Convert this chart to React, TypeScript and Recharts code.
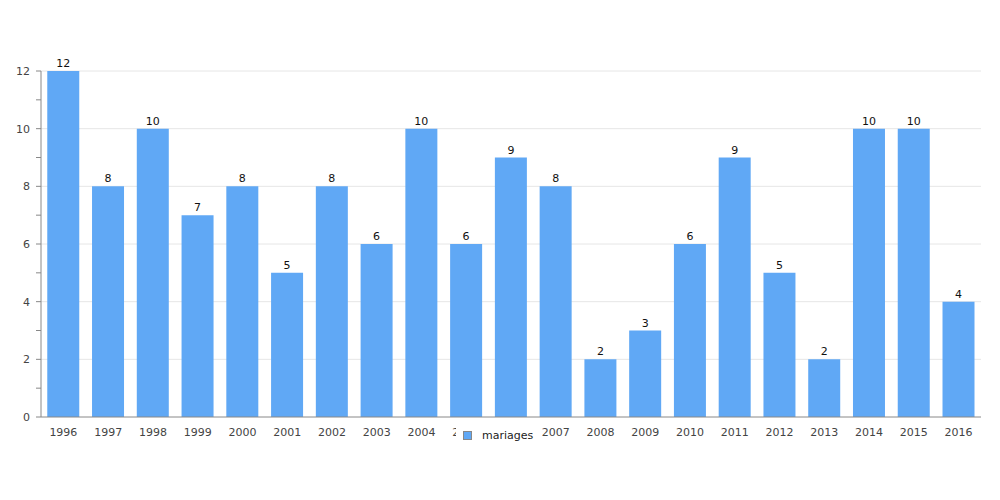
import { BarChart, Bar, XAxis, YAxis, CartesianGrid, LabelList, Legend } from 'recharts';

const years = ['1996', '1997', '1998', '1999', '2000', '2001', '2002', '2003', '2004', '2005', '2006', '2007', '2008', '2009', '2010', '2011', '2012', '2013', '2014', '2015', '2016'];
const mariages = [12, 8, 10, 7, 8, 5, 8, 6, 10, 6, 9, 8, 2, 3, 6, 9, 5, 2, 10, 10, 4];
const yTicks = [0, 1, 2, 3, 4, 5, 6, 7, 8, 9, 10, 11, 12];
const gridValues = [2, 4, 6, 8, 10, 12];

const data = years.map((year, i) => ({ year, mariages: mariages[i] }));

const FONT = '"DejaVu Sans", sans-serif';
const BLUE = '#60a8f5';

function YTick({ x, y, payload }: { x?: number; y?: number; payload?: { value: number } }) {
  if (!payload || payload.value % 2 !== 0) return null;
  return (
    <text x={(x ?? 0) - 4} y={y} dy="0.35em" textAnchor="end" fontSize={11} fill="#444" fontFamily={FONT}>
      {payload.value}
    </text>
  );
}

function LegendBox() {
  return (
    <div
      style={{
        background: '#fff',
        display: 'flex',
        alignItems: 'center',
        padding: '5px 9px 5px 7px',
        fontFamily: FONT,
        fontSize: 11,
        color: '#222',
      }}
    >
      <span
        style={{
          display: 'inline-block',
          width: 7,
          height: 7,
          background: BLUE,
          border: '1px solid #888',
          marginRight: 10,
        }}
      />
      mariages
    </div>
  );
}

export default function App() {
  return (
    <div style={{ position: 'absolute', left: 0, top: 0, width: 1000, height: 500, background: '#fff' }}>
      <BarChart
        width={1000}
        height={500}
        data={data}
        margin={{ top: 71, right: 19, left: 0, bottom: 30 }}
        barCategoryGap="14%"
      >
        <CartesianGrid vertical={false} horizontalValues={gridValues} stroke="#e6e6e6" />
        <XAxis
          dataKey="year"
          height={30}
          tickLine={false}
          tickMargin={5}
          axisLine={{ stroke: '#888' }}
          tick={{ fontSize: 11, fill: '#444', fontFamily: FONT }}
          interval={0}
        />
        <YAxis
          width={41}
          domain={[0, 12]}
          ticks={yTicks}
          interval={0}
          tickSize={5}
          tickLine={{ stroke: '#888' }}
          axisLine={{ stroke: '#888' }}
          tick={<YTick />}
        />
        <Legend
          content={<LegendBox />}
          wrapperStyle={{ position: 'absolute', left: 456, top: 424, width: 'auto', height: 'auto' }}
        />
        <Bar dataKey="mariages" fill={BLUE} isAnimationActive={false}>
          <LabelList dataKey="mariages" position="top" offset={4} fontSize={11} fill="#111" fontFamily={FONT} />
        </Bar>
      </BarChart>
    </div>
  );
}
